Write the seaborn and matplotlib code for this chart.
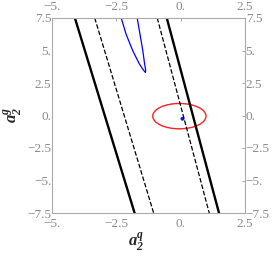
import numpy as np
import pandas as pd
import seaborn as sns
import matplotlib.pyplot as plt
from matplotlib.patches import Ellipse

# boundary lines: x at top (y=7.5) and bottom (y=-7.5)
y_ends = [7.5, -7.5]
solid_left = [-4.11, -1.79]
dashed_left = [-3.34, -1.05]
dashed_right = [-0.91, 1.11]
solid_right = [-0.54, 1.49]

# blue contour
blue_x = [-2.31, -2.12, -1.86, -1.60, -1.45, -1.37, -1.36, -1.40, -1.47, -1.58, -1.69]
blue_y = [7.5, 6.25, 4.97, 3.95, 3.5, 3.31, 3.5, 3.95, 4.97, 6.25, 7.5]

# red ellipse and blue point
ell_center = (-0.05, -0.05)
ell_width, ell_height = 2.07, 1.95
point_x, point_y = [0.07], [-0.25]

xticks = [-5, -2.5, 0, 2.5]
xtick_labels = ['\u22125.', '\u22122.5', '0.', '2.5']
yticks = [-7.5, -5, -2.5, 0, 2.5, 5, 7.5]
ytick_labels = ['\u22127.5', '\u22125.', '\u22122.5', '0.', '2.5', '5.', '7.5']

sns.set_style('white')
plt.rcParams['font.family'] = ['Liberation Serif', 'DejaVu Serif']
plt.rcParams['mathtext.fontset'] = 'custom'
plt.rcParams['mathtext.bf'] = 'Liberation Serif:italic:bold'
plt.rcParams['mathtext.rm'] = 'Liberation Serif'

fig = plt.figure(figsize=(2.74, 2.56), dpi=100)
ax = fig.add_axes([52/274, 1 - 213/256, (245 - 52)/274, (213 - 18)/256])

for xs, ls, lw in [(solid_left, '-', 1.7), (dashed_left, '--', 0.9),
                   (dashed_right, '--', 0.9), (solid_right, '-', 1.7)]:
    sns.lineplot(x=xs, y=y_ends, ax=ax, color='black', linestyle=ls, lw=lw, sort=False)

blue = pd.DataFrame({'x': blue_x, 'y': blue_y})
sns.lineplot(data=blue, x='x', y='y', ax=ax, color='#0000ff', lw=0.9, sort=False)

ax.add_patch(Ellipse(ell_center, ell_width, ell_height, fill=False,
                     edgecolor='#ff2020', lw=1.0))
sns.scatterplot(x=point_x, y=point_y, ax=ax, color='#1010ff', s=8, edgecolor='none')

ax.set_xlim(-5, 2.5)
ax.set_ylim(-7.5, 7.5)
ax.set_xticks(xticks)
ax.set_xticklabels(xtick_labels)
ax.set_yticks(yticks)
ax.set_yticklabels(ytick_labels)
ax.tick_params(axis='both', direction='in', length=2, width=0.6, color='#999999',
               labelcolor='#8a8a8a', labelsize=9.5,
               top=True, right=True, labeltop=True, labelright=True)
ax.tick_params(axis='x', pad=3.5)
ax.tick_params(axis='y', pad=0.5)
for spine in ax.spines.values():
    spine.set_color('#aaaaaa')
    spine.set_linewidth(0.8)
ax.set_xlabel('')
ax.set_ylabel('')

fig.text(136/274, 1 - 242/256, r'$\mathbf{a}_\mathbf{2}^\mathbf{q}$', fontsize=12,
         ha='center', va='center')
fig.text(13/274, 1 - 115/256, r'$\mathbf{a}_\mathbf{2}^\mathbf{g}$', fontsize=12,
         ha='center', va='center', rotation=90)

fig.savefig('out.png', dpi=100)
